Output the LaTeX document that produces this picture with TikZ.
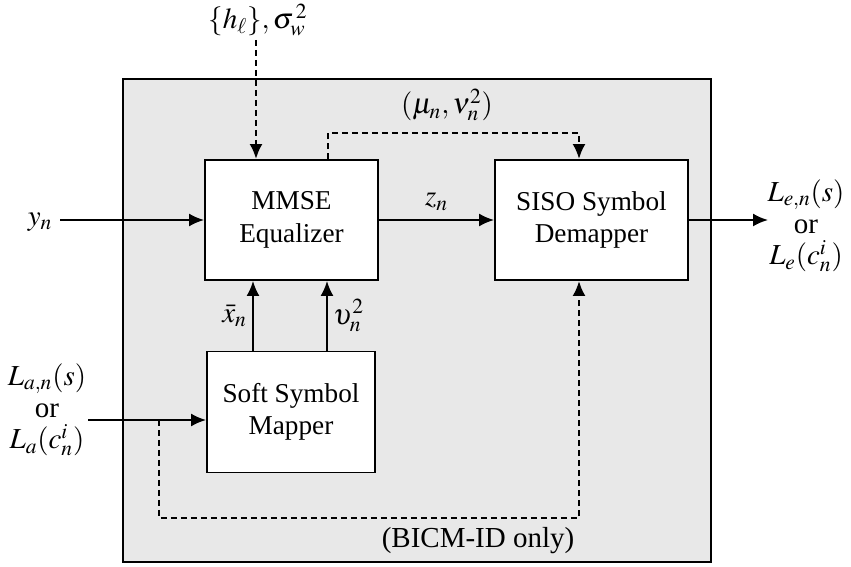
\documentclass[tikz,border=0pt]{standalone}
\usepackage{amsmath}
\usepackage{mathptmx}
\usepackage{fontspec}
\setmainfont{Liberation Serif}
\usepackage{tikz}
\usetikzlibrary{arrows.meta, positioning, calc}
\definecolor{figgray}{HTML}{E8E8E8}
\tikzset{
  figbox/.style={draw=black, line width=1.1pt, fill=white, align=center,
    inner sep=2pt, font=\fontsize{15.5}{18.5}\selectfont},
  figarrow/.style={-{Latex[length=3mm, width=2.6mm]}, line width=1.1pt},
  figdashed/.style={figarrow, line width=1.4pt, dash pattern=on 1.2mm off 0.8mm},
  figlabel/.style={font=\fontsize{16.5}{17}\selectfont, align=center, inner sep=1pt},
}

\begin{document}
\begin{tikzpicture}[x=0.02cm, y=-0.02cm]
  \useasboundingbox (0,0) rectangle (851,567);
  \draw[line width=1.1pt, fill=figgray] (123,79) rectangle (711,562);
  \node[figbox, minimum width=3.46cm, minimum height=2.4cm] (eq) at (291.5,220) {MMSE\\Equalizer};
  \node[figbox, minimum width=3.86cm, minimum height=2.4cm] (demap) at (591.5,220) {SISO Symbol\\Demapper};
  \node[figbox, minimum width=3.36cm, minimum height=2.42cm] (map) at (291,412) {Soft Symbol\\Mapper};
  % inputs and outputs
  \coordinate (yin) at (60,220);
  \coordinate (lin) at (88,420);
  \coordinate (lout) at (768,220);
  \coordinate (htop) at (256,40);
  \node[figlabel] (yn) at (40,222) {$y_n$};
  \node[figlabel] (la) at (47,410) {$L_{a,n}(s)$\\[1pt]or\\[1pt]$L_a(c_n^i)$};
  \node[figlabel] (le) at (806,226) {$L_{e,n}(s)$\\[1pt]or\\[1pt]$L_e(c_n^i)$};
  \node[figlabel] (hl) at (258,20) {$\{h_\ell\},\sigma_w^{\,2}$};
  \draw[figarrow] (yin) -- (eq.west |- yin);
  \draw[figarrow] (lin) -- (map.west |- lin);
  \draw[figarrow] (demap.east) -- (lout);
  \draw[figarrow] (eq.east) -- node[figlabel, above=4pt] (zn) {$z_n$} (demap.west);
  \draw[figdashed] (htop) -- (htop |- eq.north);
  % mapper to equalizer
  \draw[figarrow] (map.north -| 253,0) -- node[figlabel, left=2pt] (xbar) {$\bar{x}_n$} (eq.south -| 253,0);
  \draw[figarrow] (map.north -| 327,0) -- node[figlabel, right=2pt] (vn) {$\upsilon_n^2$} (eq.south -| 327,0);
  % feedback paths
  \draw[figdashed] (eq.north -| 328,0) |- (447,133) node[figlabel, above=5pt] (mu) {$(\mu_n,\nu_n^2)$} -| (demap.north -| 579,0);
  \draw[figdashed] (159,420) |- (579,518) -- (demap.south -| 579,0);
  \node[figlabel] (bicm) at (478,541) {(BICM-ID only)};
\end{tikzpicture}
\end{document}
